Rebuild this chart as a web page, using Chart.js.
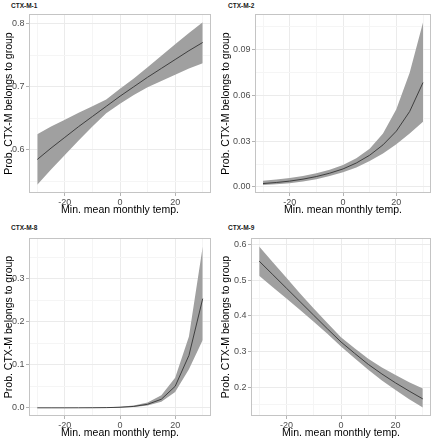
<!DOCTYPE html>
<html><head><meta charset="utf-8">
<script src="https://cdn.jsdelivr.net/npm/chart.js@4.4.1/dist/chart.umd.min.js"></script>
<style>
html,body{margin:0;padding:0;background:#fff;width:435px;height:440px;overflow:hidden}
canvas{position:absolute}
.strip{position:absolute;font:bold 6.5px "Liberation Sans",Arial,sans-serif;line-height:8px;color:#1a1a1a;white-space:nowrap}
</style></head><body>
<div class="strip" style="left:11px;top:2px">CTX-M-1</div>
<div class="strip" style="left:228px;top:2px">CTX-M-2</div>
<div class="strip" style="left:11px;top:224px">CTX-M-8</div>
<div class="strip" style="left:228px;top:224px">CTX-M-9</div>
<canvas id="c1" width="217" height="218" style="left:0;top:0"></canvas>
<canvas id="c2" width="218" height="218" style="left:217px;top:0"></canvas>
<canvas id="c3" width="217" height="222" style="left:0;top:218px"></canvas>
<canvas id="c4" width="218" height="222" style="left:217px;top:218px"></canvas>
<script>
// ---- data ----
const temps = [-30,-25,-20,-15,-10,-5,0,5,10,15,20,25,30];
const xGrid = [-30,-20,-10,0,10,20,30];
const xMajor = [-20,0,20];
const xTitle = 'Min. mean monthly temp.';
const yTitle = 'Prob. CTX-M belongs to group';

const m1Mean  = [0.585,0.603,0.620,0.637,0.653,0.669,0.685,0.700,0.715,0.729,0.743,0.757,0.770];
const m1Upper = [0.625,0.637,0.648,0.659,0.669,0.680,0.697,0.713,0.731,0.749,0.767,0.785,0.802];
const m1Lower = [0.545,0.569,0.592,0.615,0.637,0.658,0.673,0.687,0.699,0.709,0.719,0.729,0.737];
const m1YGrid = [0.55,0.6,0.65,0.7,0.75,0.8];
const m1YMajor = [0.6,0.7,0.8];
const m1YLabels = ['0.6','0.7','0.8'];

const m2Mean  = [0.0022,0.0029,0.0038,0.0051,0.0068,0.0090,0.0118,0.0157,0.0208,0.0276,0.0366,0.0495,0.0685];
const m2Upper = [0.0040,0.0048,0.0058,0.0072,0.0089,0.0112,0.0143,0.0188,0.0250,0.0350,0.0510,0.0750,0.1080];
const m2Lower = [0.0012,0.0017,0.0024,0.0035,0.0050,0.0071,0.0096,0.0128,0.0170,0.0220,0.0280,0.0350,0.0428];
const m2YGrid = [0,0.015,0.03,0.045,0.06,0.075,0.09,0.105];
const m2YMajor = [0,0.03,0.06,0.09];
const m2YLabels = ['0.00','0.03','0.06','0.09'];

const m8Mean  = [0.00001,0.00002,0.00004,0.00009,0.0002,0.0005,0.0013,0.0033,0.0082,0.020,0.050,0.122,0.254];
const m8Upper = [0.00005,0.00008,0.00015,0.0003,0.0006,0.0012,0.0025,0.0055,0.0125,0.029,0.070,0.166,0.375];
const m8Lower = [0,0,0.00001,0.00003,0.00007,0.0002,0.0007,0.0020,0.0055,0.014,0.037,0.090,0.158];
const m8YGrid = [0,0.05,0.1,0.15,0.2,0.25,0.3,0.35];
const m8YMajor = [0,0.1,0.2,0.3];
const m8YLabels = ['0.0','0.1','0.2','0.3'];

const m9Mean  = [0.554,0.516,0.478,0.440,0.402,0.364,0.327,0.295,0.264,0.237,0.212,0.189,0.167];
const m9Upper = [0.595,0.551,0.507,0.463,0.421,0.380,0.340,0.309,0.280,0.255,0.234,0.214,0.196];
const m9Lower = [0.513,0.481,0.449,0.417,0.384,0.350,0.314,0.281,0.249,0.219,0.192,0.166,0.143];
const m9YGrid = [0.15,0.2,0.25,0.3,0.35,0.4,0.45,0.5,0.55,0.6];
const m9YMajor = [0.2,0.3,0.4,0.5,0.6];
const m9YLabels = ['0.2','0.3','0.4','0.5','0.6'];

// ---- drawing ----
const FONT = '"Liberation Sans", Arial, Helvetica, sans-serif';
const near = (a,b) => Math.abs(a-b) < 1e-9;
const isIn = (v, arr) => arr.some(m => near(m, v));

const panelBorder = {
  id: 'panelBorder',
  afterDraw(chart) {
    const a = chart.chartArea, c = chart.ctx;
    c.save();
    c.strokeStyle = '#c4c4c4';
    c.lineWidth = 1;
    c.strokeRect(Math.round(a.left)+0.5, Math.round(a.top)+0.5, Math.round(a.right-a.left)-1, Math.round(a.bottom-a.top)-1);
    c.restore();
  }
};

function makePanel(id, mean, upper, lower, yGrid, yMajor, yLabels, yMin, yMax, lay) {
  const pts = arr => temps.map((t,i) => ({x:t, y:arr[i]}));
  new Chart(document.getElementById(id), {
    type: 'line',
    data: { datasets: [
      { data: pts(mean), borderWidth: 0.9, pointRadius: 0, fill: false, borderColor: '#333333', tension: 0 },
      { data: pts(upper), borderWidth: 0, pointRadius: 0, fill: '+1', backgroundColor: '#a0a0a0', borderColor: 'rgba(0,0,0,0)', tension: 0 },
      { data: pts(lower), borderWidth: 0, pointRadius: 0, fill: false, borderColor: 'rgba(0,0,0,0)', tension: 0 }
    ]},
    options: {
      responsive: false, animation: false, devicePixelRatio: 1,
      layout: { padding: { top: lay.top, right: lay.right, left: 0, bottom: 0 } },
      plugins: { legend: { display: false }, tooltip: { enabled: false }, title: { display: false } },
      scales: {
        x: {
          type: 'linear', min: -33, max: 33,
          afterBuildTicks: s => { s.ticks = xGrid.map(v => ({value: v})); },
          afterFit: s => { s.height = lay.xh; },
          ticks: { autoSkip: false, maxRotation: 0, padding: 1.5, color: '#4d4d4d',
                   font: { family: FONT, size: 9 },
                   callback: v => isIn(v, xMajor) ? String(v) : '' },
          grid: { color: c => (c.tick && isIn(c.tick.value, xMajor)) ? '#ebebeb' : '#f5f5f5',
                  lineWidth: 1, drawTicks: true, tickLength: 3,
                  tickColor: c => (c.tick && isIn(c.tick.value, xMajor)) ? '#b3b3b3' : 'rgba(0,0,0,0)' },
          border: { display: false },
          title: { display: true, text: xTitle, color: '#000', font: { family: FONT, size: 10.5 }, padding: { top: 0, bottom: lay.xtp } }
        },
        y: {
          type: 'linear', min: yMin, max: yMax,
          afterBuildTicks: s => { s.ticks = yGrid.map(v => ({value: v})); },
          afterFit: s => { s.width = lay.yw; },
          ticks: { autoSkip: false, padding: 1.5, color: '#4d4d4d',
                   font: { family: FONT, size: 9 },
                   callback: v => { const k = yMajor.findIndex(m => near(m, v)); return k >= 0 ? yLabels[k] : ''; } },
          grid: { color: c => (c.tick && isIn(c.tick.value, yMajor)) ? '#ebebeb' : '#f5f5f5',
                  lineWidth: 1, drawTicks: true, tickLength: 3,
                  tickColor: c => (c.tick && isIn(c.tick.value, yMajor)) ? '#b3b3b3' : 'rgba(0,0,0,0)' },
          border: { display: false },
          title: { display: true, text: yTitle, color: '#000', font: { family: FONT, size: 10.5 }, padding: { top: 3, bottom: 0 } }
        }
      }
    },
    plugins: [panelBorder]
  });
}

makePanel('c1', m1Mean, m1Upper, m1Lower, m1YGrid, m1YMajor, m1YLabels, 0.532, 0.815, {top:14, right:6, yw:29, xh:25, xtp:2});
makePanel('c2', m2Mean, m2Upper, m2Lower, m2YGrid, m2YMajor, m2YLabels, -0.004, 0.1135, {top:14, right:4, yw:38, xh:25, xtp:2});
makePanel('c3', m8Mean, m8Upper, m8Lower, m8YGrid, m8YMajor, m8YLabels, -0.019, 0.395, {top:20, right:6, yw:29, xh:24, xtp:1});
makePanel('c4', m9Mean, m9Upper, m9Lower, m9YGrid, m9YMajor, m9YLabels, 0.119, 0.619, {top:20, right:4, yw:34, xh:24, xtp:1});
</script>
</body></html>
